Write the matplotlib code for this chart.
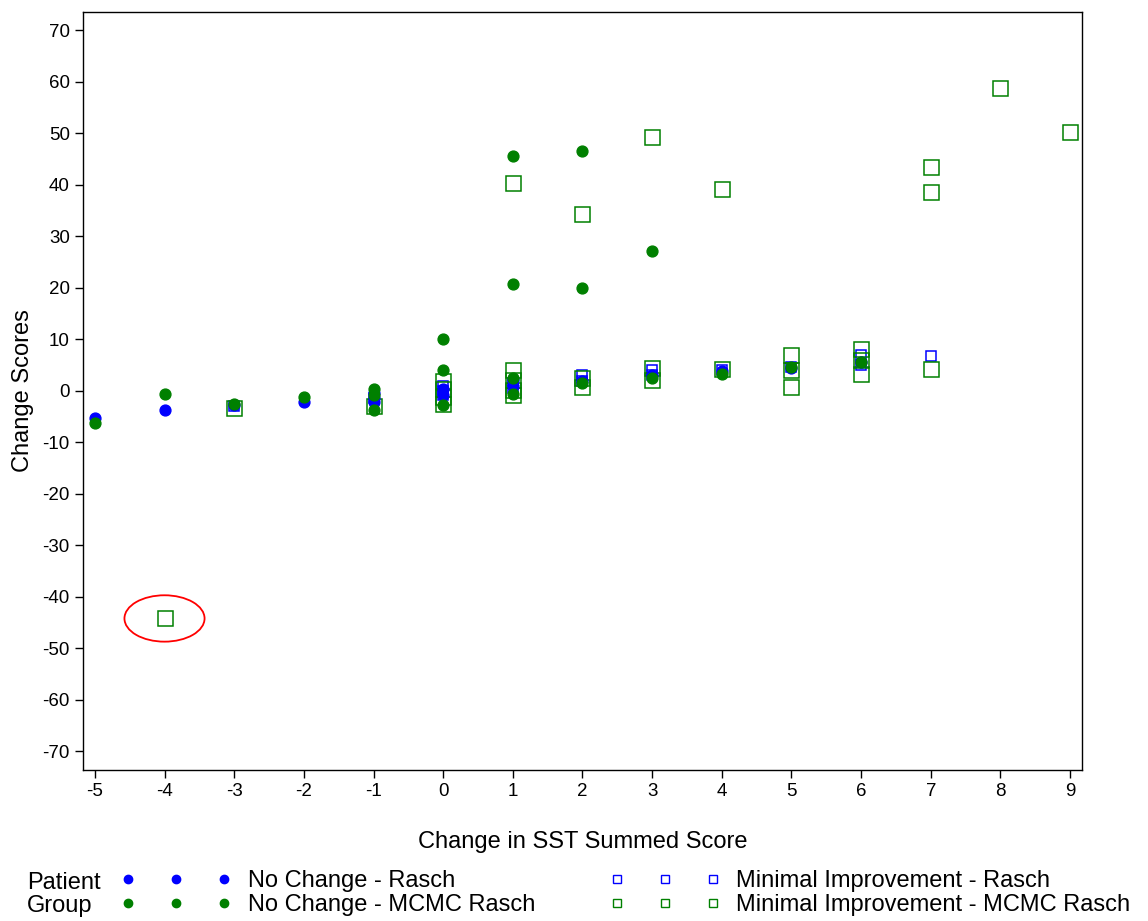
import matplotlib
matplotlib.use("Agg")
from matplotlib import pyplot as plt
from matplotlib.lines import Line2D
from matplotlib.patches import Ellipse

plt.rcParams['font.family'] = ['Liberation Sans', 'DejaVu Sans']
plt.rcParams['axes.unicode_minus'] = False

##################################################
# Data

# No Change - Rasch (blue dots)
nc_rasch_x = [-5, -4, -3, -2, -1, -1, -1, 0, 0, 1, 1, 2, 3, 4, 5, 6]
nc_rasch_y = [-5.2, -3.7, -2.7, -2.2, -0.5, -1.5, -2.2, 0.3, -0.8, 1.0, 2.0, 1.8, 3.0, 3.8, 4.5, 5.5]

# No Change - MCMC Rasch (green dots)
nc_mcmc_x = [-5, -4, -3, -2, -1, -1, -1, 0, 0, 0, 1, 1, 1, 1, 2, 2, 2, 3, 3, 4, 5, 6]
nc_mcmc_y = [-6.2, -0.6, -2.5, -1.2, 0.4, -0.8, -3.8, 10.0, 4.0, -2.7,
             45.5, 20.8, 2.4, -0.6, 46.5, 20.0, 1.4, 27.2, 2.4, 3.2, 4.6, 5.6]

# Minimal Improvement - Rasch (blue squares)
mi_rasch_x = [-3, -1, 0, 0, 0, 1, 1, 2, 2, 3, 3, 4, 5, 6, 6, 7]
mi_rasch_y = [-3.0, -1.5, 1.0, 0.0, -0.8, 1.5, 0.5, 3.0, 1.8, 4.0, 3.0, 4.0, 4.6, 6.9, 5.0, 6.7]

# Minimal Improvement - MCMC Rasch (green squares)
mi_mcmc_x = [-4, -3, -1, 0, 0, 0, 0, 1, 1, 1, 1, 1, 2, 2, 2, 3, 3, 3,
             4, 4, 5, 5, 5, 6, 6, 6, 7, 7, 7, 8, 9]
mi_mcmc_y = [-44.2, -3.3, -2.9, 1.8, 0.3, -1.2, -2.5, 40.3, 4.0, 2.0, 0.1, -0.9,
             34.3, 2.4, 0.8, 49.3, 4.4, 2.0, 39.2, 4.2, 6.9, 4.0, 0.7,
             8.0, 5.9, 3.3, 43.5, 38.5, 4.3, 58.8, 50.3]

# the outlier that is circled in red
outlier_x, outlier_y = -4, -44.2

x_ticks = list(range(-5, 10))
y_ticks = list(range(-70, 71, 10))

blue = '#0000FF'
green = '#008000'

##################################################
# Plot

fig = plt.figure(figsize=(11.48, 9.21), dpi=100)
ax = fig.add_axes([0.0723, 0.164, 0.8702, 0.823])

ax.plot(mi_rasch_x, mi_rasch_y, 's', ms=7.2, mfc='none', mec=blue, mew=1.1, ls='none')
ax.plot(mi_mcmc_x, mi_mcmc_y, 's', ms=10.8, mfc='none', mec=green, mew=1.1, ls='none')
ax.plot(nc_rasch_x, nc_rasch_y, 'o', ms=7.8, color=blue, ls='none')
ax.plot(nc_mcmc_x, nc_mcmc_y, 'o', ms=7.8, color=green, ls='none')

ax.add_patch(Ellipse((outlier_x, outlier_y), 1.15, 9.0, fill=False, edgecolor='red', lw=1.3))

ax.set_xlim(-5.17, 9.17)
ax.set_ylim(-73.6, 73.5)
ax.set_xticks(x_ticks)
ax.set_yticks(y_ticks)
ax.tick_params(direction='out', length=6, width=1, labelsize=13.5)
for s in ax.spines.values():
	s.set_linewidth(1)

ax.set_xlabel('Change in SST Summed Score', fontsize=17, labelpad=22)
ax.set_ylabel('Change Scores', fontsize=17, labelpad=6)

##################################################
# Legend (two columns + row titles)

fs = 17
h_nc_r = Line2D([], [], marker='o', ls='none', color=blue, ms=6)
h_nc_m = Line2D([], [], marker='o', ls='none', color=green, ms=6)
h_mi_r = Line2D([], [], marker='s', ls='none', mfc='none', mec=blue, ms=5.5, mew=1)
h_mi_m = Line2D([], [], marker='s', ls='none', mfc='none', mec=green, ms=5.5, mew=1)

leg_kw = dict(loc='upper left', frameon=False, numpoints=3, handlelength=4.67,
              handletextpad=0.7, fontsize=fs, borderpad=0, borderaxespad=0,
              labelspacing=0.1)
fig.legend([h_nc_r, h_nc_m], ['No Change - Rasch', 'No Change - MCMC Rasch'],
           bbox_to_anchor=(0.1054, 1 - 870 / 921), **leg_kw)
fig.legend([h_mi_r, h_mi_m], ['Minimal Improvement - Rasch', 'Minimal Improvement - MCMC Rasch'],
           bbox_to_anchor=(0.531, 1 - 870 / 921), **leg_kw)

fig.text(27 / 1148, 1 - 889 / 921, 'Patient', fontsize=fs, va='baseline', ha='left')
fig.text(27 / 1148, 1 - 912 / 921, 'Group', fontsize=fs, va='baseline', ha='left')

fig.savefig('out.png', dpi=100)
